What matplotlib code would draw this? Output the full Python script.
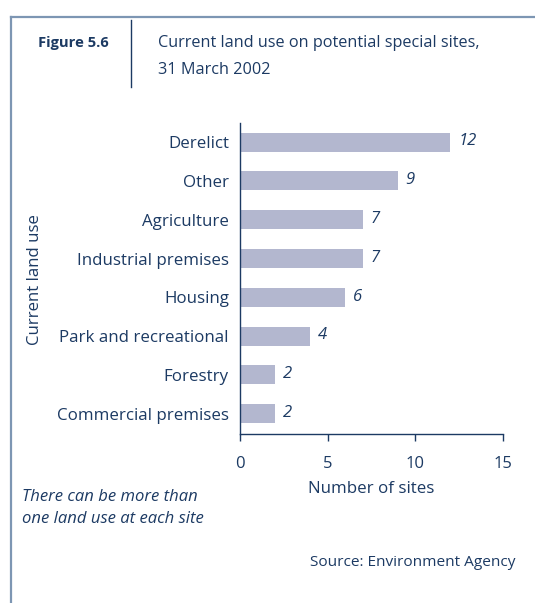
import matplotlib
matplotlib.use("Agg")
import matplotlib.pyplot as plt
import numpy as np
from matplotlib.lines import Line2D

# data, top to bottom as shown
categories = ["Derelict", "Other", "Agriculture", "Industrial premises",
              "Housing", "Park and recreational", "Forestry", "Commercial premises"]
sites = [12, 9, 7, 7, 6, 4, 2, 2]
x_ticks = [0, 5, 10, 15]

TEXT = "#1c3a63"
BAR = "#b3b7cf"
FRAME = "#7d96b3"

plt.rcParams["font.family"] = ["Open Sans", "DejaVu Sans"]

fig = plt.figure(figsize=(5.35, 6.03), dpi=100)
ax = fig.add_axes([240/535, 1 - 434/603, 263/535, 311/603])

y = np.arange(len(categories))[::-1]
ax.barh(y, sites, height=0.49, color=BAR)
for yi, v in zip(y, sites):
    ax.text(v + 0.45, yi + 0.02, str(v), ha="left", va="center",
            fontsize=12, style="italic", color=TEXT)

ax.set_xlim(0, 15)
ax.set_ylim(-0.52, 7.49)
ax.set_yticks(y)
ax.set_yticklabels(categories, fontsize=12.2, color=TEXT)
ax.set_xticks(x_ticks)
ax.set_xticklabels([str(t) for t in x_ticks], fontsize=12, color=TEXT)
ax.tick_params(axis="y", length=0, pad=8)
ax.tick_params(axis="x", length=5, width=1, color=TEXT, pad=11)
for s in ["top", "right"]:
    ax.spines[s].set_visible(False)
for s in ["left", "bottom"]:
    ax.spines[s].set_color(TEXT)
    ax.spines[s].set_linewidth(1)

ax.set_xlabel("Number of sites", fontsize=12.2, color=TEXT, labelpad=6)

fig.text(35/535, 1 - 280/603, "Current land use", rotation=90, ha="center",
         va="center", fontsize=12.1, color=TEXT)

# header
fig.text(38/535, 1 - 43/603, "Figure 5.6", fontsize=10.6, fontweight="bold",
         color=TEXT, va="center")
fig.text(158/535, 1 - 43/603, "Current land use on potential special sites,",
         fontsize=11.7, color=TEXT, va="center")
fig.text(158/535, 1 - 70/603, "31 March 2002", fontsize=11.7, color=TEXT, va="center")
fig.add_artist(Line2D([131/535, 131/535], [1 - 20/603, 1 - 87/603],
                      color=TEXT, lw=1, transform=fig.transFigure))

# notes
fig.text(22/535, 1 - 497/603, "There can be more than", fontsize=12,
         style="italic", color=TEXT, va="center")
fig.text(22/535, 1 - 519/603, "one land use at each site", fontsize=12,
         style="italic", color=TEXT, va="center")
fig.text(515/535, 1 - 562/603, "Source: Environment Agency", fontsize=11.1,
         color=TEXT, ha="right", va="center")

# page frame
fig.add_artist(Line2D([11/535, 11/535], [0, 1 - 17/603], color=FRAME, lw=1.6,
                      transform=fig.transFigure))
fig.add_artist(Line2D([11/535, 1], [1 - 17/603, 1 - 17/603], color=FRAME, lw=1.6,
                      transform=fig.transFigure))

fig.savefig("out.png", dpi=100, facecolor="white")
